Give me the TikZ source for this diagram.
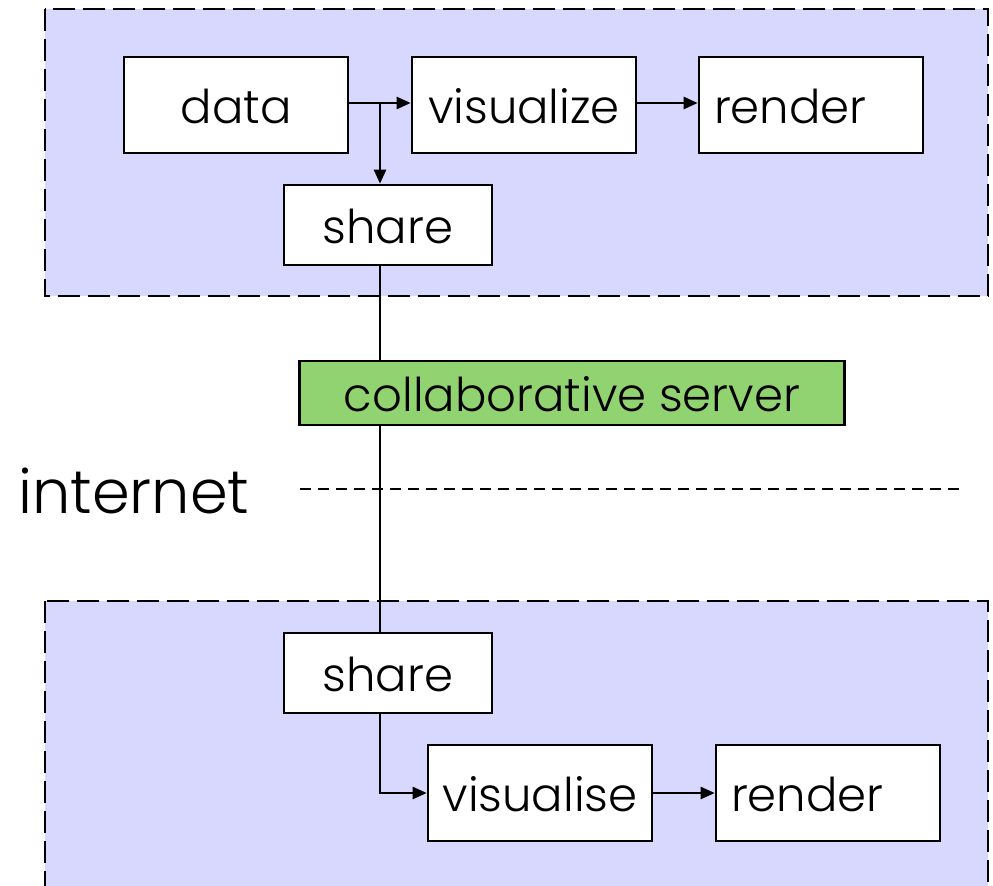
\documentclass[tikz,border=0pt]{standalone}
\usepackage{fontspec}
\setmainfont{Poppins}[UprightFont=* Light]
\usetikzlibrary{arrows.meta, positioning}
\definecolor{panelblue}{RGB}{216,216,255}
\definecolor{servergreen}{RGB}{144,211,112}

\begin{document}
\begin{tikzpicture}[x=0.02cm, y=-0.02cm,
    every node/.style={font=\fontsize{26.5}{30}\selectfont},
    block/.style={draw, line width=1.5pt, fill=white, minimum width=4.48cm,
        minimum height=1.92cm, inner sep=0pt, text height=22pt, text depth=0.4pt},
    rendbox/.style={block, inner xsep=0.3cm, text width=3.88cm, align=left},
    sharebox/.style={block, minimum width=4.16cm, minimum height=1.6cm},
    serverbox/.style={block, fill=servergreen, minimum width=10.9cm, minimum height=1.28cm},
    panel/.style={draw, dash pattern=on 0.44cm off 0.16cm, line width=1.5pt, fill=panelblue},
    link/.style={line width=1.4pt},
    flow/.style={link, -{Triangle[length=0.28cm, width=0.24cm]}},
    netline/.style={line width=1pt, dash pattern=on 0.22cm off 0.14cm}]
    \clip (0,0) rectangle (993,885);
    \fill[white] (0,0) rectangle (993,885);
    % the two client sides
    \draw[panel] (45,9) rectangle (988,296);
    \draw[panel] (45,601) rectangle (988,900);

    % first client
    \node[block] (data) at (236,105) {data};
    \node[block] (vis1) at (524,105) {visualize};
    \node[rendbox] (ren1) at (811,105) {render};
    \node[sharebox] (share1) at (388,225) {share};

    \node[serverbox] (server) at (572,393) {collaborative server};

    % second client
    \node[sharebox] (share2) at (388,673) {share};
    \node[block] (vis2) at (540,793) {visualise};
    \node[rendbox] (ren2) at (828,793) {render};

    % internet boundary
    \node[font=\fontsize{34.5}{38}\selectfont, anchor=base west] (net) at (12,513) {internet};
    \coordinate (netstart) at (300,489);
    \coordinate (netend) at (965,489);
    \draw[netline] (netstart) -- (netend);

    % connectors
    \coordinate (split) at (380,103);
    \draw[flow] (data.east |- split) -- (vis1.west |- split);
    \draw[flow] (vis1.east |- split) -- (ren1.west |- split);
    \draw[flow] (split) -- (split |- share1.north);
    \draw[link] (split |- share1.south) -- (split |- server.north);
    \draw[link] (split |- server.south) -- (split |- share2.north);
    \coordinate (bend) at (split |- vis2.west);
    \draw[flow] (split |- share2.south) -- (bend) -- (vis2.west);
    \draw[flow] (vis2) -- (ren2);
\end{tikzpicture}
\end{document}
